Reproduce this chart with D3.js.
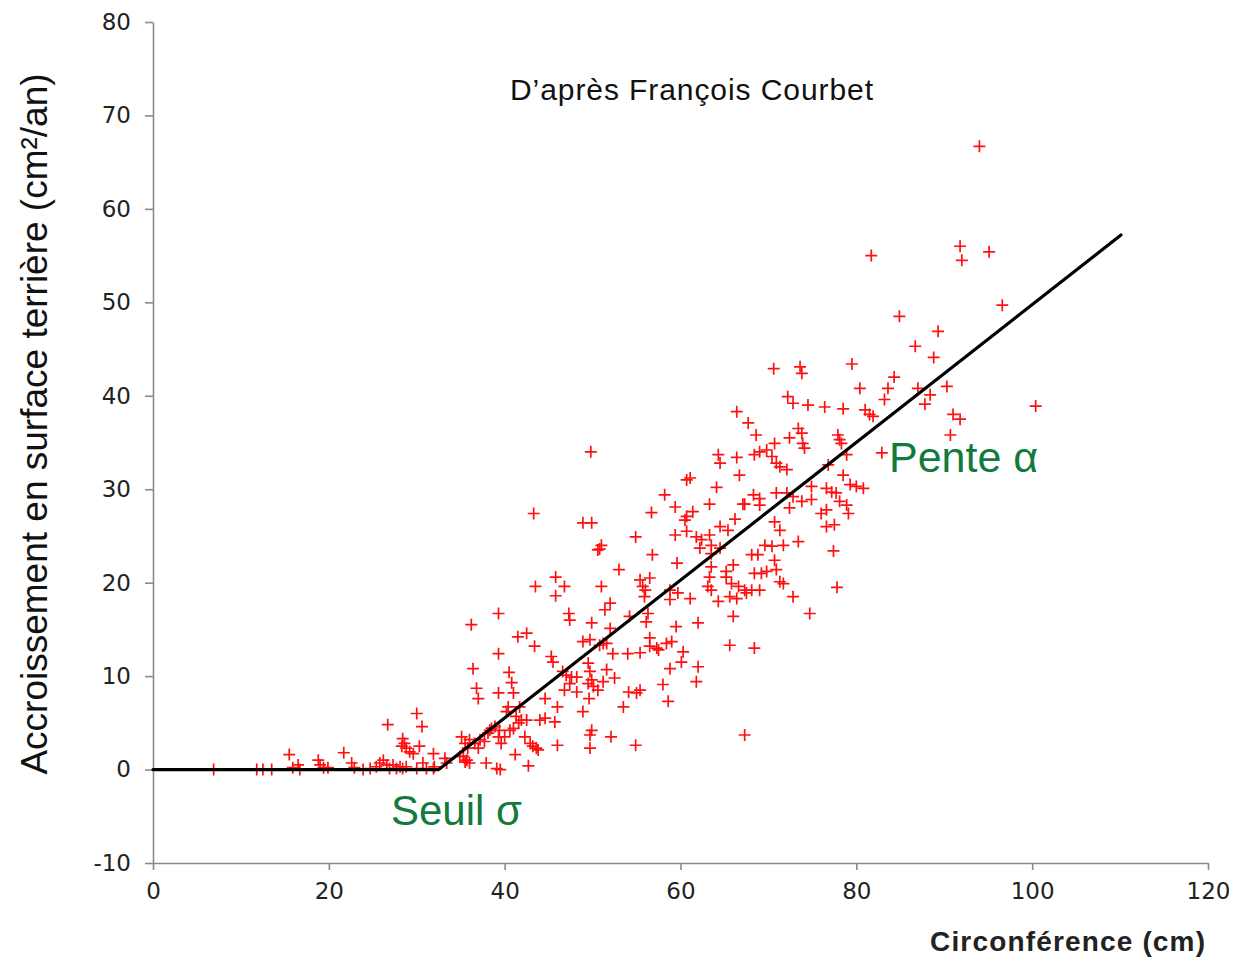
<!DOCTYPE html>
<html>
<head>
<meta charset="utf-8">
<script src="https://cdn.jsdelivr.net/npm/d3@7"></script>
<style>
  body { margin: 0; background: #fff; }
  svg { font-family: "Liberation Sans", Arial, sans-serif; }
</style>
</head>
<body>
<div id="canvas" class="canvas"></div>
<script>
// --- data (circonférence cm, accroissement cm2/an)
var circ = [
  6.9,11.8,12.5,13.5,15.5,15.9,16.5,16.7,18.8,19.0,19.4,19.9,21.7,22.6,22.9,23.9,24.7,25.4,25.8,26.2,
  26.6,26.9,27.3,27.7,28.1,28.4,28.8,26.7,28.4,28.6,28.8,28.3,29.2,29.6,30.3,30.0,30.6,30.0,30.7,31.1,
  31.9,31.9,32.0,33.2,33.4,35.1,35.5,35.8,36.0,36.6,37.0,37.2,37.7,38.1,38.5,38.9,39.3,34.9,35.5,36.0,
  37.9,36.2,36.4,36.8,37.0,39.3,39.3,39.3,39.1,39.5,41.2,42.7,35.3,35.7,
  58.2,59.4,56.7,43.3,48.9,49.9,54.9,59.4,51.0,50.6,50.8,56.8,59.6,53.0,45.8,43.5,46.8,45.8,51.0,55.4,
  56.5,55.7,56.0,55.9,58.8,59.7,58.8,52.0,51.4,47.3,47.4,49.9,54.2,52.0,56.3,56.1,59.5,41.5,42.5,43.4,
  48.9,49.7,51.2,50.8,51.6,52.3,54.0,55.4,56.5,56.5,57.5,58.4,59.0,45.3,45.5,40.5,40.8,41.0,
  46.6,47.0,47.6,48.2,47.4,46.8,48.2,49.5,49.7,49.9,49.5,50.1,50.6,51.2,51.6,52.5,54.1,55.0,55.4,49.6,
  44.6,46.0,53.5,48.9,58.6,40.4,40.2,41.7,41.3,41.9,42.5,41.6,41.0,44.0,44.6,45.7,38.3,39.4,40.0,39.6,
  40.6,42.3,42.9,43.2,43.6,49.9,49.7,49.7,52.1,54.9,46.0,
  49.8,64.3,66.4,64.5,66.7,60.7,61.1,64.1,61.4,60.7,60.5,63.3,67.1,66.2,64.5,65.4,60.7,61.8,62.4,63.3,
  62.2,63.5,64.5,63.5,63.5,65.2,66.0,61.1,63.1,63.5,64.3,65.8,66.6,67.5,62.0,66.0,60.3,60.1,57.3,65.6,
  58.8,62.0,61.8,58.0,43.8,67.3,
  70.6,73.6,73.8,79.5,84.3,80.4,83.6,83.2,72.2,72.8,74.5,76.4,78.5,81.0,81.5,81.9,66.4,67.7,68.6,73.4,
  73.8,72.4,73.9,74.1,70.7,69.0,68.4,69.8,70.4,70.9,71.3,72.1,77.9,78.1,78.3,82.9,78.9,76.8,78.5,74.9,
  76.6,77.2,77.7,79.3,80.0,80.8,68.3,69.0,69.0,67.3,70.9,72.1,72.8,73.8,74.9,72.4,76.0,76.6,78.1,78.9,
  79.1,70.7,71.3,76.6,77.5,73.4,77.4,69.6,70.4,71.7,68.1,68.8,70.7,70.9,68.4,69.2,69.8,71.3,71.7,67.3,
  68.1,69.0,65.6,66.4,72.8,74.7,77.8,68.4,65.2,63.3,
  94.0,81.7,91.8,92.0,95.1,96.6,84.9,89.3,86.7,88.8,87.0,88.4,87.8,90.3,91.0,91.8,90.7,100.4
];
var accr = [
  0,0,0,0,1.6,0.2,0.5,0,1.0,0.5,0.2,0.2,1.8,0.7,0.2,0,0.1,0.3,0.7,1.0,
  0.5,0.1,0.5,0.1,0.3,0.1,0.3,4.8,3.3,2.8,2.3,2.5,1.9,1.7,2.5,6.0,4.6,0.1,0.7,0.1,
  1.7,0.1,0.3,1.2,0.7,3.5,2.8,2.3,3.2,2.8,2.3,3.2,3.0,3.9,4.4,4.6,3.5,1.4,0.8,0.7,
  0.7,15.5,10.8,8.7,7.6,16.7,12.4,8.2,0.1,0,1.6,0.4,1.4,1.0,
  29.4,28.1,27.5,27.4,26.4,26.4,24.9,25.1,24.0,23.5,23.6,23.0,22.1,21.4,20.6,19.6,19.6,18.6,19.6,20.3,
  20.5,19.6,19.2,18.5,19.2,18.9,18.2,17.8,17.1,16.7,16.0,15.7,16.4,15.1,16.7,15.8,15.3,14.2,14.6,13.2,
  13.7,13.9,13.5,13.3,13.5,12.4,12.4,12.5,14.1,13.2,12.8,13.5,13.7,12.1,11.5,10.4,9.3,8.2,
  10.5,10.1,9.9,9.9,9.2,8.5,8.3,11.4,10.5,9.6,9.2,8.9,8.5,9.4,10.7,9.8,8.3,8.2,8.5,7.6,
  7.6,6.7,6.7,6.2,7.3,6.7,6.2,6.7,5.7,5.3,5.3,5.0,4.4,5.3,5.5,5.1,4.2,4.2,3.5,2.8,
  4.2,3.5,2.8,2.5,2.3,4.2,3.7,2.3,3.5,2.6,2.6,
  34.0,33.7,33.4,32.8,31.5,31.0,31.2,30.2,27.6,27.1,26.7,28.4,28.4,26.8,26.0,25.6,25.5,24.9,24.6,25.1,
  23.7,24.0,23.7,23.1,21.7,21.2,21.9,18.3,19.6,19.2,18.0,19.9,19.6,18.9,15.7,16.4,12.6,11.5,13.0,13.3,
  10.8,11.0,9.4,9.1,2.1,3.7,
  42.9,43.1,42.4,43.4,42.0,40.8,40.8,39.6,39.9,39.2,39.0,38.8,38.6,38.5,38.0,37.8,38.3,37.1,35.8,36.5,
  36.0,35.5,34.9,34.4,34.9,34.0,33.7,34.2,33.5,32.8,32.4,32.1,35.8,35.3,34.9,33.9,33.7,32.6,31.5,30.3,
  30.1,29.7,29.6,30.5,30.3,30.1,29.4,29.0,28.3,28.4,29.6,29.6,29.2,28.7,28.9,28.0,27.4,27.8,28.7,28.3,
  27.4,26.5,25.6,26.0,26.2,24.4,23.4,24.0,23.9,24.0,23.0,23.0,22.4,21.4,21.0,21.0,21.2,20.1,19.9,19.2,
  19.2,19.2,18.5,18.3,18.5,16.7,19.5,13.0,20.6,20.6,
  66.7,55.0,56.0,54.5,55.4,49.7,48.5,46.9,45.3,44.1,40.8,40.1,39.1,41.0,38.0,37.5,35.8,38.9
];

// fitted model: seuil then pente
var modelX = [0, 32.5, 110.1];
var modelY = [0, 0, 57.2];

var xTicks = [0, 20, 40, 60, 80, 100, 120];
var yTicks = [-10, 0, 10, 20, 30, 40, 50, 60, 70, 80];

var pts = circ.map(function(c, i){ return {x: c, y: accr[i]}; });
var model = modelX.map(function(c, i){ return {x: c, y: modelY[i]}; });

// --- Margin convention
var M = {top:22, right:28, bottom:96, left:153};
var outerWidth = 1236, outerHeight = 959;
var w = outerWidth - M.left - M.right,
    h = outerHeight - M.top - M.bottom;

var svg = d3.select('.canvas')
    .append('svg')
    .attr('width', outerWidth)
    .attr('height', outerHeight);

var plot = svg.append('g')
    .attr('transform','translate('+ M.left + ',' + M.top +')');

var x = d3.scaleLinear().domain([0, 120]).range([0, w]);
var y = d3.scaleLinear().domain([-10, 80]).range([h, 0]);

var plain = function(d){ return String(d); };   // keep the "-10" hyphen

// --- axes
var yAxis = plot.append('g')
    .call(d3.axisLeft(y).tickValues(yTicks).tickFormat(plain)
      .tickSize(8).tickSizeOuter(0).tickPadding(14));
var xAxis = plot.append('g')
    .attr('transform', 'translate(0,' + h + ')')
    .call(d3.axisBottom(x).tickValues(xTicks).tickFormat(plain)
      .tickSize(7).tickSizeOuter(0).tickPadding(13));

[yAxis, xAxis].forEach(function(a){
  a.selectAll('path, line').attr('stroke', '#8a8a8a').attr('stroke-width', 1.6);
  a.selectAll('text')
    .attr('fill', '#222')
    .style('font-size', '23px')
    .style('font-family', '"DejaVu Sans", sans-serif');
});

// --- points
plot.selectAll('path.pt')
    .data(pts)
    .enter().append('path')
    .attr('class', 'pt')
    .attr('transform', function(d){ return 'translate(' + x(d.x) + ',' + y(d.y) + ')'; })
    .attr('d', 'M-6,0H6M0,-6V6')
    .attr('stroke', '#ff1010')
    .attr('stroke-width', 1.7)
    .attr('fill', 'none');

// --- model line
plot.append('path')
    .datum(model)
    .attr('d', d3.line().x(function(d){ return x(d.x); }).y(function(d){ return y(d.y); }))
    .attr('fill', 'none')
    .attr('stroke', '#000')
    .attr('stroke-width', 3.2)
    .attr('stroke-linecap', 'round')
    .attr('stroke-linejoin', 'round');

// --- texts
svg.append('text')
    .attr('x', 510).attr('y', 100)
    .attr('textLength', 363).attr('lengthAdjust', 'spacing')
    .style('font-size', '30px')
    .attr('fill', '#111')
    .text('D\u2019apr\u00e8s Fran\u00e7ois Courbet');

svg.append('text')
    .attr('transform', 'translate(47,424) rotate(-90)')
    .attr('text-anchor', 'middle')
    .style('font-size', '37px')
    .attr('fill', '#111')
    .text('Accroissement en surface terri\u00e8re (cm\u00b2/an)');

svg.append('text')
    .attr('x', 930).attr('y', 951)
    .attr('textLength', 275).attr('lengthAdjust', 'spacing')
    .style('font-size', '28px')
    .style('font-weight', 'bold')
    .attr('fill', '#222')
    .text('Circonf\u00e9rence (cm)');

svg.append('text')
    .attr('x', 889).attr('y', 472)
    .style('font-size', '43px')
    .attr('fill', '#137a3e')
    .text('Pente \u03b1');

svg.append('text')
    .attr('x', 391).attr('y', 825)
    .style('font-size', '42px')
    .attr('fill', '#137a3e')
    .text('Seuil \u03c3');
</script>
</body>
</html>
